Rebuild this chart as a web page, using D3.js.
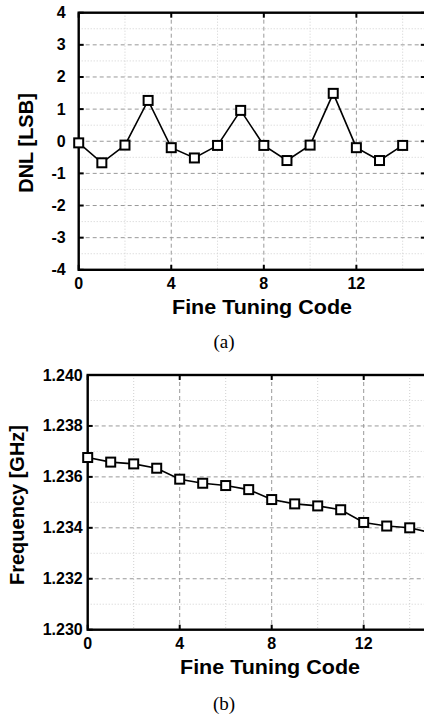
<!DOCTYPE html>
<html>
<head>
<meta charset="utf-8">
<script src="https://cdn.jsdelivr.net/npm/d3@7.9.0/dist/d3.min.js"></script>
<style>
  body { margin: 0; background: #fff; }
  svg { display: block; }
  .tick-label { font-family: "Liberation Sans", Arial, sans-serif; font-weight: bold; font-size: 16px; }
  .axis-title { font-family: "Liberation Sans", Arial, sans-serif; font-weight: bold; font-size: 20px; }
  .caption { font-family: "Liberation Serif", "Times New Roman", serif; font-size: 19px; }
</style>
</head>
<body>
<svg id="fig" width="424" height="719"></svg>
<script>
// fine tuning codes
const codesA = [0, 1, 2, 3, 4, 5, 6, 7, 8, 9, 10, 11, 12, 13, 14];
const dnl = [-0.05, -0.67, -0.12, 1.27, -0.2, -0.52, -0.13, 0.96, -0.13, -0.6, -0.12, 1.49, -0.2, -0.6, -0.13];

const codesB = [0, 1, 2, 3, 4, 5, 6, 7, 8, 9, 10, 11, 12, 13, 14, 15];
const freq = [1.23676, 1.23658, 1.23651, 1.23634, 1.23591, 1.23575, 1.23566, 1.2355,
              1.23511, 1.23494, 1.23486, 1.23471, 1.23421, 1.23407, 1.234, 1.23379];

const xTicks = [0, 4, 8, 12];
const xMinor = [2, 6, 10, 14];
const dnlTicks = [-4, -3, -2, -1, 0, 1, 2, 3, 4];
const dnlMinor = [-3.5, -2.5, -1.5, -0.5, 0.5, 1.5, 2.5, 3.5];
const freqTicks = [1.230, 1.232, 1.234, 1.236, 1.238, 1.240];
const freqMinor = [1.231, 1.233, 1.235, 1.237, 1.239];

const svg = d3.select('#fig');

function drawPanel(opt) {
  const g = svg.append('g');
  const x = d3.scaleLinear().domain([0, 15]).range([opt.left, opt.right]);
  const y = d3.scaleLinear().domain(opt.yDomain).range([opt.bottom, opt.top]);

  // minor grid (dotted)
  g.selectAll('.vminor').data(xMinor).join('line')
    .attr('x1', d => x(d)).attr('x2', d => x(d))
    .attr('y1', opt.top).attr('y2', opt.bottom)
    .attr('stroke', '#d0d0d0').attr('stroke-width', 1).attr('stroke-dasharray', '1,2');
  g.selectAll('.hminor').data(opt.yMinor).join('line')
    .attr('x1', opt.left).attr('x2', opt.right)
    .attr('y1', d => y(d)).attr('y2', d => y(d))
    .attr('stroke', '#d0d0d0').attr('stroke-width', 1).attr('stroke-dasharray', '1,2');

  // major grid (dashed)
  g.selectAll('.vmajor').data(xTicks.slice(1)).join('line')
    .attr('x1', d => x(d)).attr('x2', d => x(d))
    .attr('y1', opt.top).attr('y2', opt.bottom)
    .attr('stroke', '#999').attr('stroke-width', 1).attr('stroke-dasharray', '4,3');
  g.selectAll('.hmajor').data(opt.yTicks.slice(1, -1)).join('line')
    .attr('x1', opt.left).attr('x2', opt.right)
    .attr('y1', d => y(d)).attr('y2', d => y(d))
    .attr('stroke', '#999').attr('stroke-width', 1).attr('stroke-dasharray', '4,3');

  // inward ticks on all sides
  const tl = 5;
  g.selectAll('.tb').data(xTicks).join('line')
    .attr('x1', d => x(d)).attr('x2', d => x(d))
    .attr('y1', opt.bottom).attr('y2', opt.bottom - tl)
    .attr('stroke', '#000').attr('stroke-width', 2);
  g.selectAll('.tt').data(xTicks).join('line')
    .attr('x1', d => x(d)).attr('x2', d => x(d))
    .attr('y1', opt.top).attr('y2', opt.top + tl)
    .attr('stroke', '#000').attr('stroke-width', 2);
  g.selectAll('.tlft').data(opt.yTicks).join('line')
    .attr('x1', opt.left).attr('x2', opt.left + tl)
    .attr('y1', d => y(d)).attr('y2', d => y(d))
    .attr('stroke', '#000').attr('stroke-width', 2);
  g.selectAll('.trgt').data(opt.yTicks).join('line')
    .attr('x1', opt.right).attr('x2', opt.right - tl)
    .attr('y1', d => y(d)).attr('y2', d => y(d))
    .attr('stroke', '#000').attr('stroke-width', 2);

  // frame
  g.append('rect')
    .attr('x', opt.left).attr('y', opt.top)
    .attr('width', opt.right - opt.left).attr('height', opt.bottom - opt.top)
    .attr('fill', 'none').attr('stroke', '#000').attr('stroke-width', 2.4);

  // tick labels
  g.selectAll('.xl').data(xTicks).join('text')
    .attr('class', 'tick-label')
    .attr('x', d => x(d)).attr('y', opt.bottom + 19)
    .attr('text-anchor', 'middle')
    .text(d => d);
  g.selectAll('.yl').data(opt.yTicks).join('text')
    .attr('class', 'tick-label')
    .attr('x', opt.left - opt.labelGap).attr('y', d => y(d) + 5.5)
    .attr('text-anchor', 'end')
    .text(opt.fmt);

  // data line + markers
  const pts = opt.codes.map((c, i) => [c, opt.values[i]]);
  g.append('path')
    .datum(pts)
    .attr('fill', 'none').attr('stroke', '#000').attr('stroke-width', 1.6)
    .attr('d', d3.line().x(d => x(d[0])).y(d => y(d[1])));
  const s = 9;
  g.selectAll('.mk').data(pts).join('rect')
    .attr('x', d => x(d[0]) - s / 2).attr('y', d => y(d[1]) - s / 2)
    .attr('width', s).attr('height', s)
    .attr('fill', '#fff').attr('stroke', '#000').attr('stroke-width', 2);

  // titles
  g.append('text').attr('class', 'axis-title')
    .attr('x', opt.xTitleX).attr('y', opt.bottom + 44)
    .attr('text-anchor', 'middle')
    .attr('textLength', 180).attr('lengthAdjust', 'spacingAndGlyphs')
    .text('Fine Tuning Code');
  g.append('text').attr('class', 'axis-title')
    .attr('transform', `translate(${opt.yTitleX},${opt.yTitleY}) rotate(-90)`)
    .attr('text-anchor', 'middle')
    .text(opt.yTitle);
  g.append('text').attr('class', 'caption')
    .attr('x', 224).attr('y', opt.captionY)
    .attr('text-anchor', 'middle')
    .text(opt.caption);
}

drawPanel({
  left: 78.7, right: 425.8, top: 12.7, bottom: 269.8,
  yDomain: [-4, 4], yTicks: dnlTicks, yMinor: dnlMinor,
  codes: codesA, values: dnl, fmt: d => d, labelGap: 13,
  yTitle: 'DNL [LSB]', yTitleX: 33, yTitleY: 143, xTitleX: 262,
  caption: '(a)', captionY: 348
});

drawPanel({
  left: 87.7, right: 432.7, top: 375, bottom: 629.7,
  yDomain: [1.230, 1.240], yTicks: freqTicks, yMinor: freqMinor,
  codes: codesB, values: freq, fmt: d3.format('.3f'), labelGap: 5,
  yTitle: 'Frequency [GHz]', yTitleX: 24, yTitleY: 505, xTitleX: 270,
  caption: '(b)', captionY: 710
});
</script>
</body>
</html>
